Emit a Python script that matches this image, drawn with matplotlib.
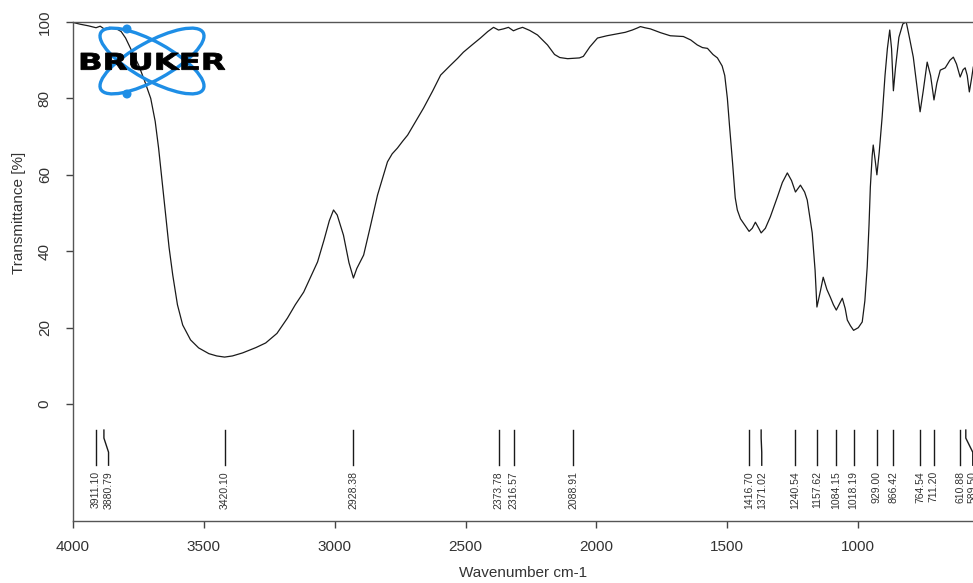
import matplotlib
matplotlib.use("Agg")
import matplotlib.pyplot as plt
from matplotlib.patches import Ellipse, Circle, PathPatch
from matplotlib.textpath import TextPath
from matplotlib.font_manager import FontProperties
from matplotlib.path import Path

plt.rcParams['font.family'] = ['Liberation Sans', 'DejaVu Sans']

# IR spectrum (wavenumber cm-1, transmittance %)
wavenumber = [4000, 3970, 3940, 3911, 3895, 3880, 3860, 3835, 3815, 3798,
              3775, 3748, 3725, 3702, 3685, 3672, 3658, 3645, 3632, 3618,
              3600, 3580, 3550, 3519, 3480, 3450, 3420, 3390, 3351, 3300,
              3263, 3220, 3180, 3150, 3118, 3090, 3065, 3040, 3020, 3004,
              2990, 2966, 2945, 2928, 2915, 2889, 2865, 2836, 2815, 2798,
              2780, 2760, 2740, 2721, 2690, 2660, 2625, 2595, 2560, 2530,
              2508, 2475, 2443, 2415, 2393, 2374, 2355, 2336, 2317, 2300,
              2282, 2255, 2225, 2187, 2160, 2140, 2110, 2088, 2065, 2050,
              2025, 1996, 1960, 1920, 1890, 1863, 1845, 1832, 1815, 1794,
              1755, 1718, 1690, 1668, 1640, 1615, 1595, 1576, 1555, 1538,
              1520, 1510, 1500, 1492, 1480, 1470, 1462, 1450, 1439, 1417,
              1405, 1393, 1380, 1371, 1355, 1336, 1309, 1290, 1271, 1255,
              1240, 1221, 1205, 1195, 1176, 1165, 1158, 1145, 1134, 1120,
              1107, 1095, 1084, 1070, 1061, 1050, 1042, 1030, 1018, 1000,
              985, 975, 966, 959, 954, 947, 943, 935, 929, 920,
              909, 898, 889, 880, 873, 866, 858, 845, 830, 817,
              805, 790, 776, 764, 752, 737, 724, 711, 700, 687,
              668, 650, 637, 625, 611, 600, 592, 584, 576, 568, 561]
transmittance = [99.9, 99.4, 99.0, 98.5, 98.9, 98.2, 98.6, 98.3, 97.5, 95.8,
                 92.5, 88.7, 84.5, 80.0, 74.0, 67.0, 58.0, 49.5, 41.0, 33.8,
                 26.0, 20.7, 16.8, 14.7, 13.2, 12.6, 12.3, 12.6, 13.4, 14.8,
                 16.0, 18.5, 22.5, 26.0, 29.3, 33.5, 37.2, 43.0, 48.0, 50.8,
                 49.5, 44.2, 37.0, 33.0, 35.5, 39.0, 46.0, 54.7, 59.5, 63.4,
                 65.5, 67.0, 68.8, 70.4, 74.0, 77.5, 82.0, 86.1, 88.5, 90.5,
                 92.1, 94.0, 95.8, 97.5, 98.6, 97.9, 98.2, 98.6, 97.7, 98.2,
                 98.6, 97.8, 96.6, 94.0, 91.5, 90.7, 90.4, 90.5, 90.6, 91.0,
                 93.5, 95.8, 96.4, 96.9, 97.3, 97.9, 98.4, 98.8, 98.5, 98.2,
                 97.2, 96.4, 96.3, 96.2, 95.3, 94.0, 93.3, 93.1, 91.5, 90.6,
                 88.5, 86.0, 80.0, 73.0, 63.0, 54.0, 50.8, 48.5, 47.4, 45.2,
                 46.0, 47.6, 46.0, 44.8, 46.0, 49.0, 54.2, 58.0, 60.5, 58.5,
                 55.5, 57.3, 55.5, 53.4, 44.8, 35.0, 25.4, 29.5, 33.2, 30.0,
                 28.0, 26.0, 24.6, 26.5, 27.7, 25.0, 22.0, 20.5, 19.3, 20.0,
                 21.5, 27.0, 35.9, 47.0, 56.8, 65.0, 67.8, 63.5, 60.0, 66.0,
                 75.1, 86.0, 93.0, 97.9, 93.0, 82.0, 88.0, 96.0, 99.5, 100.0,
                 96.0, 90.8, 83.0, 76.5, 82.0, 89.5, 86.0, 79.6, 84.0, 87.4,
                 88.0, 90.0, 90.8, 89.0, 85.6, 87.5, 88.0, 86.0, 81.7, 85.0, 88.2]

peak_positions = [3911.10, 3880.79, 3420.10, 2928.38, 2373.78, 2316.57, 2088.91,
                  1416.70, 1371.02, 1240.54, 1157.62, 1084.15, 1018.19, 929.00,
                  866.42, 764.54, 711.20, 610.88, 589.50]
peak_labels = ['3911.10', '3880.79', '3420.10', '2928.38', '2373.78', '2316.57',
               '2088.91', '1416.70', '1371.02', '1240.54', '1157.62', '1084.15',
               '1018.19', '929.00', '866.42', '764.54', '711.20', '610.88', '589.50']

x_ticks = [4000, 3500, 3000, 2500, 2000, 1500, 1000]
y_ticks = [0, 20, 40, 60, 80, 100]

txt_color = '#333333'
line_color = '#1a1a1a'

fig = plt.figure(figsize=(9.73, 5.83), dpi=100)
ax = fig.add_axes([72.7 / 973, 1 - 521 / 583, 1 - 72.7 / 973, 499 / 583])

# Spectrum
ax.plot(wavenumber, transmittance, color=line_color, lw=0.9)

# Peak markers: push labels apart so they do not overlap
label_gap = 48
label_x = []
for p in peak_positions:
    if label_x and p > label_x[-1] - label_gap:
        label_x.append(label_x[-1] - label_gap)
    else:
        label_x.append(p)

for p, lx, lab in zip(peak_positions, label_x, peak_labels):
    ax.plot([p, p, lx, lx], [-6.8, -8.9, -12.6, -16.0], color=line_color,
            lw=1.0, clip_on=False)
    ax.text(lx, -17.5, lab, rotation=90, ha='center', va='top',
            fontsize=7.5, color=txt_color, clip_on=False)

ax.set_xlim(4000, 562)
ax.set_ylim(-30.6, 100)

ax.set_xticks(x_ticks)
ax.set_xticklabels([str(t) for t in x_ticks], fontsize=11, color=txt_color)
ax.set_yticks(y_ticks)
ax.set_yticklabels([str(t) for t in y_ticks], fontsize=11, color=txt_color,
                   rotation=90, va='center')
ax.tick_params(axis='both', direction='out', length=5, width=1, colors='#444444',
               labelcolor=txt_color)
ax.tick_params(axis='y', pad=10)
ax.tick_params(axis='x', pad=9)

for side in ['left', 'bottom', 'top']:
    ax.spines[side].set_color('#555555')
    ax.spines[side].set_linewidth(1.0)
ax.spines['right'].set_visible(False)

ax.set_xlabel('Wavenumber cm-1', fontsize=11, color=txt_color)
ax.xaxis.set_label_coords(0.5, -0.091)
ax.set_ylabel('Transmittance [%]', fontsize=11, color=txt_color)
ax.yaxis.set_label_coords(-0.052, 0.617)

# Bruker logo, drawn in pixel units
lg = fig.add_axes([77 / 973, 1 - 100 / 583, 150 / 973, 78 / 583])
lg.set_xlim(77, 227)
lg.set_ylim(100, 22)
lg.axis('off')
blue = '#1e8ee6'
for ang in (29, -29):
    lg.add_patch(Ellipse((152, 61), 117, 38, angle=ang, fill=False,
                         ec=blue, lw=2.4))
lg.add_patch(Circle((127, 29), 3.8, color=blue))
lg.add_patch(Circle((127, 94), 3.8, color=blue))

tp = TextPath((0, 0), 'BRUKER', size=20,
              prop=FontProperties(family='DejaVu Sans', weight='bold'))
verts = tp.vertices.copy()
x0, x1 = verts[:, 0].min(), verts[:, 0].max()
y0, y1 = verts[:, 1].min(), verts[:, 1].max()
verts[:, 0] = 78 + (verts[:, 0] - x0) * (147 / (x1 - x0))
verts[:, 1] = 70 - (verts[:, 1] - y0) * (17 / (y1 - y0))
lg.add_patch(PathPatch(Path(verts, tp.codes), fc='black', ec='black', lw=0.6))

plt.savefig('out.png', dpi=100)
